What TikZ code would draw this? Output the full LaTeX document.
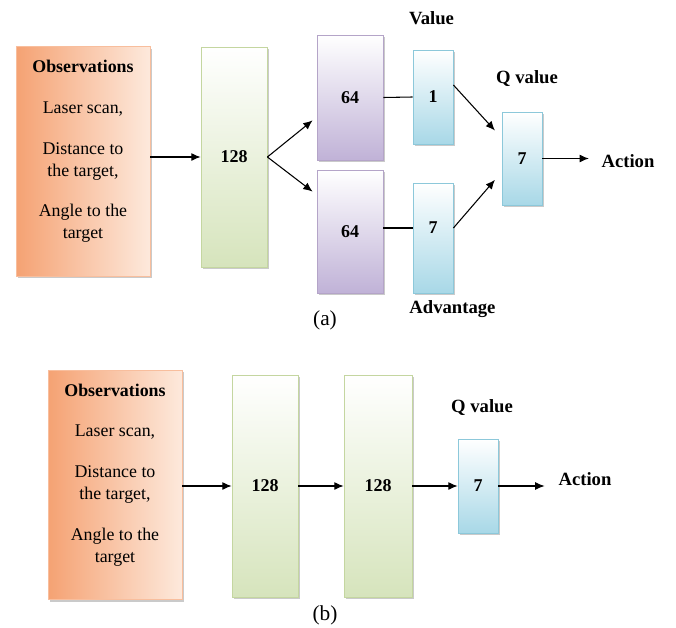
\documentclass[tikz,border=0pt]{standalone}
\usepackage{fontspec}
\setmainfont{Liberation Serif}
\usetikzlibrary{calc,shadows,arrows.meta}
\definecolor{obsdark}{RGB}{245,162,115}
\definecolor{obslight}{RGB}{253,233,220}
\definecolor{gfill}{RGB}{214,228,188}
\definecolor{gline}{RGB}{196,214,160}
\definecolor{pfill}{RGB}{192,178,215}
\definecolor{pline}{RGB}{180,164,200}
\definecolor{bfill}{RGB}{168,216,231}
\definecolor{bline}{RGB}{140,200,218}
\tikzset{%
  layer/.style={draw,shape=rectangle,inner sep=0,line width=0.6pt,
    drop shadow={shadow xshift=1.2pt,shadow yshift=-1.5pt,fill=black!35,opacity=.6}},
  obsbox/.style={layer,draw=obsdark!70!white,left color=obsdark,right color=obslight,
    minimum width=100.5pt,minimum height=172pt},
  gbox/.style={layer,draw=gline,top color=white,bottom color=gfill,minimum width=49.5pt,minimum height=#1},
  pbox/.style={layer,draw=pline,top color=white,bottom color=pfill,minimum width=49.5pt,minimum height=#1},
  bbox/.style={layer,draw=bline,top color=white,bottom color=bfill,minimum width=30pt,minimum height=#1},
  num/.style={font=\fontsize{13.5}{16}\selectfont\bfseries},
  lbl/.style={font=\fontsize{14}{17}\selectfont\bfseries},
  obstext/.style={align=center,font=\fontsize{13.4}{16.5}\selectfont},
  subcap/.style={font=\fontsize{16}{19}\selectfont},
  conn/.style={draw,line width=0.8pt},
  arr/.style={conn,-{Latex[length=7pt,width=6pt]}}
}

\begin{document}
\begin{tikzpicture}[x=0.75pt,y=-0.75pt]
  \useasboundingbox (0,0) rectangle (676,628);
  % (a) dueling network
  \node[obsbox] (o_a) at (83,161.5) {};
  \node[obstext] (o_a_t) at (83,151.5) {\textbf{Observations}\\[14pt]Laser scan,\\[14pt]Distance to\\the target,\\[14pt]Angle to the\\target};
  \node[gbox=165pt,num] (h_a) at (234,157) {128};
  \node[pbox=93.75pt,num] (v_a) at (350,97.5) {64};
  \node[pbox=92.25pt,num] (a_a) at (350,231.5) {64};
  \node[bbox=70.5pt,num] (sv_a) at (433,97) {1};
  \node[bbox=82.5pt] (sa_a) at (433,238) {};
  \node[num] (sa_a_t) at (433,228) {7};
  \node[bbox=69.75pt,num] (q_a) at (522,158.5) {7};
  \node[lbl] (act_a) at (628,161) {Action};
  \node[lbl] (val_a) at (431.5,18) {Value};
  \node[lbl] (qv_a) at (527,79) {Q value};
  \node[lbl] (adv_a) at (452.5,309) {Advantage};
  \node[subcap] (cap_a) at (325,320) {(a)};
  \draw[arr] (o_a.east |- h_a.west) -- (h_a.west);
  \draw[arr] (h_a.east) -- ([xshift=-3pt,yshift=30pt]v_a.south west);
  \draw[arr] (h_a.east) -- ([xshift=-3pt,yshift=-16.5pt]a_a.north west);
  \draw[conn] (v_a.east) -- (sv_a.west);
  \draw[conn] (a_a.east |- sa_a_t) -- (sa_a.west |- sa_a_t);
  \draw[arr] ([yshift=9pt]sv_a.east) -- ([xshift=-5pt,yshift=21pt]q_a.west);
  \draw[arr] (sa_a.east |- sa_a_t) -- ([xshift=-5pt,yshift=-16pt]q_a.west);
  \draw[arr,shorten >=6pt] (q_a.east) -- (act_a.west |- q_a.east);
  % (b) plain network
  \node[obsbox] (o_b) at (115,485) {};
  \node[obstext] (o_b_t) at (115,475) {\textbf{Observations}\\[14pt]Laser scan,\\[14pt]Distance to\\the target,\\[14pt]Angle to the\\target};
  \node[gbox=166.5pt,num] (h1_b) at (265,486) {128};
  \node[gbox=166.5pt,num,minimum width=51pt] (h2_b) at (378,486) {128};
  \node[bbox=70.5pt,num] (q_b) at (478,486) {7};
  \node[lbl] (act_b) at (585,479) {Action};
  \node[lbl] (qv_b) at (482,408) {Q value};
  \node[subcap] (cap_b) at (325,615) {(b)};
  \draw[arr] (o_b.east |- h1_b.west) -- (h1_b.west);
  \draw[arr] (h1_b) -- (h2_b);
  \draw[arr] (h2_b) -- (q_b);
  \draw[arr,shorten >=7pt] (q_b.east) -- (act_b.west |- q_b.east);
\end{tikzpicture}
\end{document}
